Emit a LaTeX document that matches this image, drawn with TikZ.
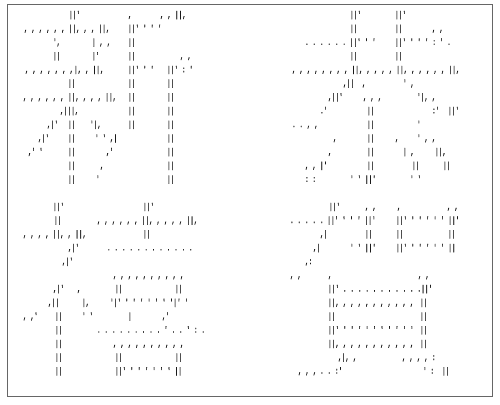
\documentclass[tikz,border=0pt]{standalone}
\usepackage{fontspec}
\newfontfamily\aaf[FakeStretch=0.69,FakeBold=0.6,Ligatures=TeXOff]{Liberation Mono}
\newcommand\aafont{\aaf\fontsize{9pt}{9pt}\selectfont\frenchspacing}
\tikzset{
  aa/.style={anchor=base west, inner sep=0pt, outer sep=0pt, font=\aafont, text=black!90},
  bord/.style={draw=black!60, line width=1.2pt}
}
\newcommand\gl[4]{\node[aa] (#1) at (#2,{17.5+13.7*#3}) {#4};}
\begin{document}
\begin{tikzpicture}[x=1pt,y=-1pt]
\useasboundingbox (0,0) rectangle (500,404);
\draw[bord] (7.5,4.5) rectangle (492.5,396.5);
% ---- 新 (top left)
\gl{s0a}{69}{0}{||'}\gl{s0b}{128}{0}{,}\gl{s0c}{160}{0}{, , ||,}
\gl{s1a}{24}{1}{, , , , , , ||, , , ||,}\gl{s1b}{128}{1}{||' ' ' '}
\gl{s2a}{53}{2}{',}\gl{s2b}{92}{2}{| , ,}\gl{s2c}{128}{2}{||}
\gl{s3a}{53}{3}{||}\gl{s3b}{92}{3}{|'}\gl{s3c}{128}{3}{||}\gl{s3d}{180}{3}{, ,}
\gl{s4a}{25}{4}{, , , , , , ,}\gl{s4b}{74}{4}{|, , ||,}\gl{s4c}{128}{4}{||' ' '}\gl{s4d}{167}{4}{||' : '}
\gl{s5a}{68}{5}{||}\gl{s5b}{128}{5}{||}\gl{s5c}{167}{5}{||}
\gl{s6a}{23}{6}{, , , , , ,}\gl{s6b}{68}{6}{||, , , , ||,}\gl{s6c}{128}{6}{||}\gl{s6d}{167}{6}{||}
\gl{s7a}{60}{7}{,|||,}\gl{s7b}{128}{7}{||}\gl{s7c}{167}{7}{||}
\gl{s8a}{47}{8}{,|'}\gl{s8b}{68}{8}{||}\gl{s8c}{90}{8}{'|,}\gl{s8d}{128}{8}{||}\gl{s8e}{167}{8}{||}
\gl{s9a}{38}{9}{,|'}\gl{s9b}{68}{9}{||}\gl{s9c}{95}{9}{' ' ,|}\gl{s9d}{167}{9}{||}
\gl{s10a}{28}{10}{,' '}\gl{s10b}{68}{10}{||}\gl{s10c}{106}{10}{,'}\gl{s10d}{167}{10}{||}
\gl{s11a}{68}{11}{||}\gl{s11b}{100}{11}{,}\gl{s11c}{167}{11}{||}
\gl{s12a}{68}{12}{||}\gl{s12b}{96}{12}{'}\gl{s12c}{167}{12}{||}
% ---- 恭 (top right)
\gl{k0a}{350}{0}{||'}\gl{k0b}{395}{0}{||'}
\gl{k1a}{350}{1}{||}\gl{k1b}{395}{1}{||}\gl{k1c}{432}{1}{, ,}
\gl{k2a}{305}{2}{. . . . . . ||' ' '}\gl{k2b}{395}{2}{||' ' ' ' : ' .}
\gl{k3a}{350}{3}{||}\gl{k3b}{395}{3}{||}
\gl{k4a}{292}{4}{, , , , , , , , ||, , , , , ||, , , , , , ||,}
\gl{k5a}{343}{5}{,||}\gl{k5b}{362}{5}{,}\gl{k5c}{403}{5}{' ,}
\gl{k6a}{328}{6}{,||'}\gl{k6b}{363}{6}{, , ,}\gl{k6c}{417}{6}{'|, ,}
\gl{k7a}{320}{7}{.'}\gl{k7b}{367}{7}{||}\gl{k7c}{432}{7}{:'}\gl{k7d}{448}{7}{||'}
\gl{k8a}{292}{8}{. . , ,}\gl{k8b}{367}{8}{||}\gl{k8c}{417}{8}{'}
\gl{k9a}{333}{9}{,}\gl{k9b}{367}{9}{||}\gl{k9c}{395}{9}{,}\gl{k9d}{417}{9}{' , ,}
\gl{k10a}{328}{10}{,}\gl{k10b}{367}{10}{||}\gl{k10c}{403}{10}{| ,}\gl{k10d}{435}{10}{||,}
\gl{k11a}{305}{11}{, , |'}\gl{k11b}{367}{11}{||}\gl{k11c}{412}{11}{||}\gl{k11d}{443}{11}{||}
\gl{k12a}{305}{12}{: :}\gl{k12b}{350}{12}{' ' ||'}\gl{k12c}{410}{12}{' '}
% ---- 禧 (bottom left)
\gl{x0a}{53}{14}{||'}\gl{x0b}{143}{14}{||'}
\gl{x1a}{54}{15}{||}\gl{x1b}{97}{15}{, , , , , , ||, , , , , ||,}
\gl{x2a}{23}{16}{, , , , ||, , ||,}\gl{x2b}{143}{16}{||}
\gl{x3a}{68}{17}{,|'}\gl{x3b}{107}{17}{. . . . . . . . . . . .}
\gl{x4a}{62}{18}{,|'}
\gl{x5a}{113}{19}{, , , , , , , , , ,}
\gl{x6a}{53}{20}{,|'}\gl{x6b}{77}{20}{,}\gl{x6c}{115}{20}{||}\gl{x6d}{175}{20}{||}
\gl{x7a}{48}{21}{,||}\gl{x7b}{82}{21}{|,}\gl{x7c}{110}{21}{'|' ' ' ' ' ' ' '|' '}
\gl{x8a}{23}{22}{, ,'}\gl{x8b}{55}{22}{||}\gl{x8c}{82}{22}{' '}\gl{x8d}{128}{22}{|}\gl{x8e}{162}{22}{,'}
\gl{x9a}{55}{23}{||}\gl{x9b}{97}{23}{. . . . . . . . . ' . . ' : .}
\gl{x10a}{55}{24}{||}\gl{x10b}{113}{24}{, , , , , , , , , ,}
\gl{x11a}{55}{25}{||}\gl{x11b}{115}{25}{||}\gl{x11c}{175}{25}{||}
\gl{x12a}{55}{26}{||}\gl{x12b}{115}{26}{||' ' ' ' ' ' ' ||}
% ---- 賀 (bottom right)
\gl{h0a}{329}{14}{||'}\gl{h0b}{365}{14}{, ,}\gl{h0c}{397}{14}{,}\gl{h0d}{447}{14}{, ,}
\gl{h1a}{290}{15}{. . . . . ||' ' ' ' ||'}\gl{h1b}{396}{15}{||' ' ' ' ' ' ||'}
\gl{h2a}{320}{16}{,|}\gl{h2b}{365}{16}{||}\gl{h2c}{396}{16}{||}\gl{h2d}{448}{16}{||}
\gl{h3a}{313}{17}{,|}\gl{h3b}{350}{17}{' ' ||'}\gl{h3c}{396}{17}{||' ' ' ' ' ' ||}
\gl{h4a}{305}{18}{,:}
\gl{h5a}{290}{19}{, ,}\gl{h5b}{328}{19}{,}\gl{h5c}{418}{19}{, ,}
\gl{h6a}{328}{20}{||' . . . . . . . . . . .||'}
\gl{h7a}{328}{21}{||, , , , , , , , , , ,}\gl{h7b}{420}{21}{||}
\gl{h8a}{328}{22}{||}\gl{h8b}{420}{22}{||}
\gl{h9a}{328}{23}{||' ' ' ' ' ' ' ' ' ' '}\gl{h9b}{420}{23}{||}
\gl{h10a}{328}{24}{||, , , , , , , , , , ,}\gl{h10b}{420}{24}{||}
\gl{h11a}{338}{25}{,|, ,}\gl{h11b}{402}{25}{, , , , :}
\gl{h12a}{298}{26}{, , ,}\gl{h12b}{320}{26}{. . :'}\gl{h12c}{423}{26}{' :}\gl{h12d}{442}{26}{||}
\end{tikzpicture}
\end{document}
